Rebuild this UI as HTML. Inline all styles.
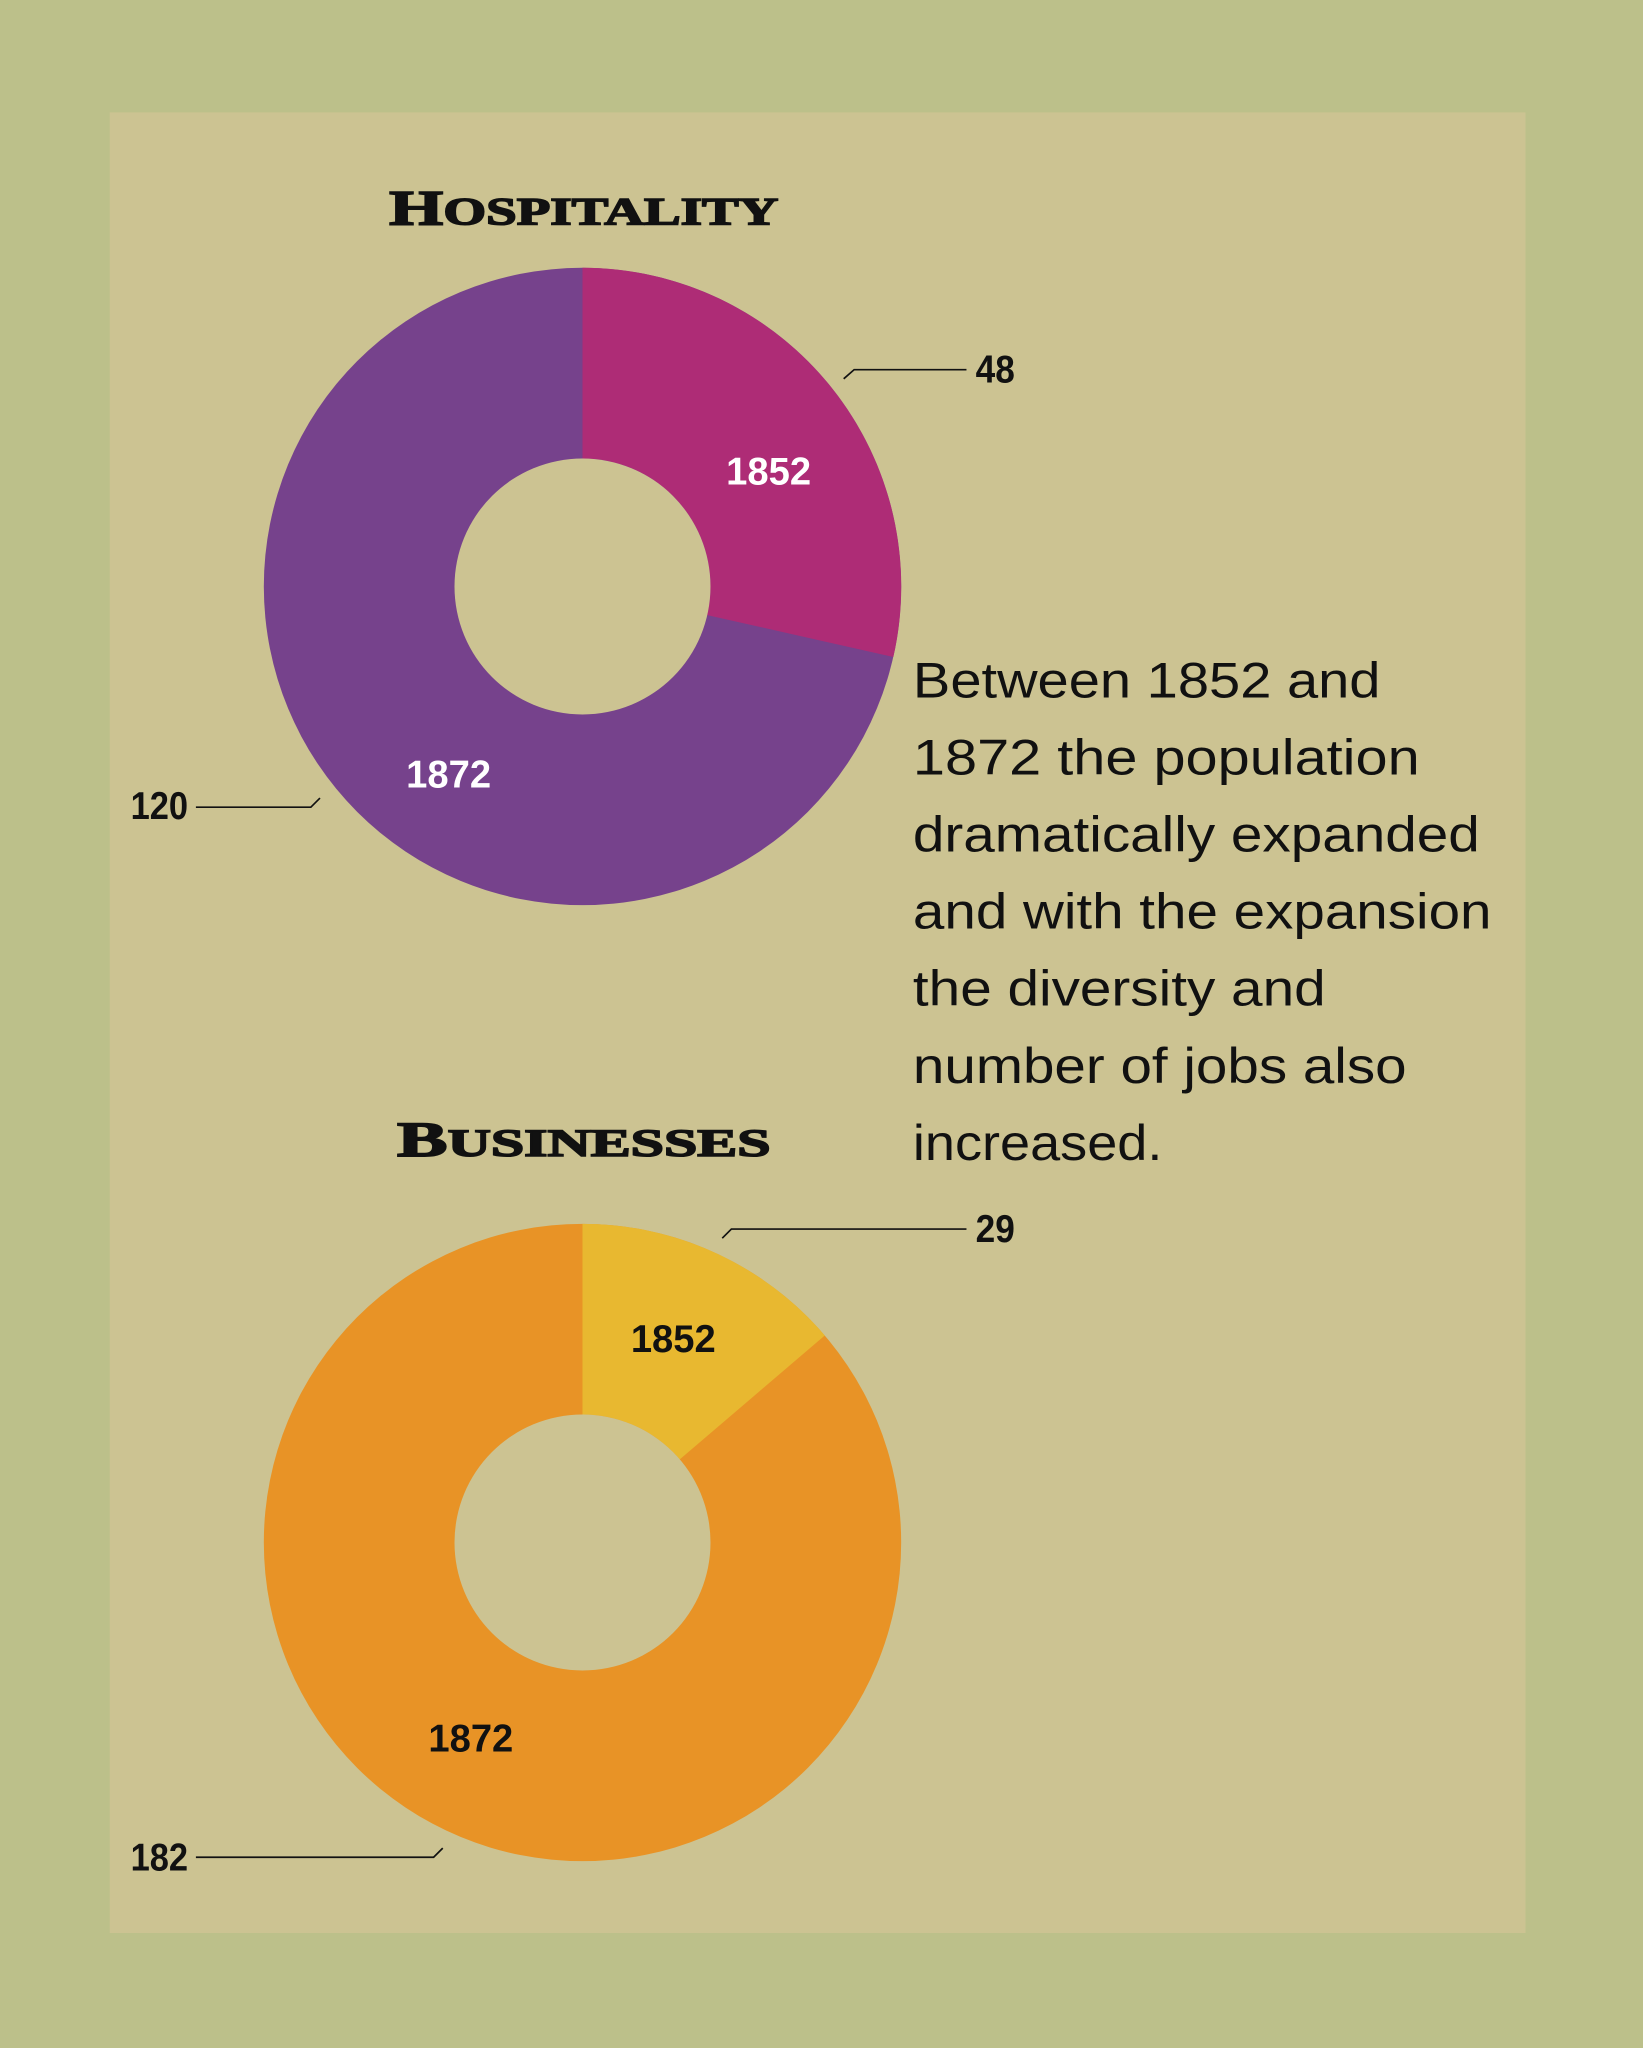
<!DOCTYPE html>
<html><head><meta charset="utf-8"><style>
html,body{margin:0;padding:0;background:#bcc08a;}
svg{display:block}
</style></head><body>
<svg width="1643" height="2048" viewBox="0 0 1258 1568" xmlns="http://www.w3.org/2000/svg">
<rect x="0" y="0" width="1258" height="1568" fill="#bcc08a"/>
<rect x="84" y="86" width="1084" height="1394" fill="#ccc392"/>

<!-- Hospitality -->
<text x="298" y="172" font-family="Liberation Serif, serif" font-weight="bold" fill="#111" stroke="#111" stroke-width="1.2" textLength="298" lengthAdjust="spacingAndGlyphs"><tspan font-size="38">H</tspan><tspan font-size="30">OSPITALITY</tspan></text>
<circle cx="446" cy="449" r="244" fill="#76428c"/>
<path d="M446,205 A244,244 0 0 1 684,503 L541.5,470.9 A98,98 0 0 0 446,351 Z" fill="#ae2c76"/>
<circle cx="446" cy="449" r="98" fill="#ccc392"/>
<g font-family="Liberation Sans Narrow, Liberation Sans, sans-serif" font-weight="bold" font-size="30" fill="#111" lengthAdjust="spacingAndGlyphs">
<text x="556" y="371" fill="#fff" textLength="65" lengthAdjust="spacingAndGlyphs">1852</text>
<text x="311" y="603" fill="#fff" textLength="65" lengthAdjust="spacingAndGlyphs">1872</text>
<text x="747" y="293" textLength="30" lengthAdjust="spacingAndGlyphs">48</text>
<text x="100" y="627" textLength="44" lengthAdjust="spacingAndGlyphs">120</text>
</g>
<polyline points="646,290 654,283 740,283" fill="none" stroke="#111" stroke-width="1.3"/>
<polyline points="150,618 238,618 245,611" fill="none" stroke="#111" stroke-width="1.3"/>

<!-- Businesses -->
<text x="304" y="885" font-family="Liberation Serif, serif" font-weight="bold" fill="#111" stroke="#111" stroke-width="1.2" textLength="286" lengthAdjust="spacingAndGlyphs"><tspan font-size="38">B</tspan><tspan font-size="30">USINESSES</tspan></text>
<circle cx="446" cy="1181" r="244" fill="#e89326"/>
<path d="M446,937 A244,244 0 0 1 631.5,1022.5 L520.5,1117.4 A98,98 0 0 0 446,1083 Z" fill="#e8b830"/>
<circle cx="446" cy="1181" r="98" fill="#ccc392"/>
<g font-family="Liberation Sans Narrow, Liberation Sans, sans-serif" font-weight="bold" font-size="30" fill="#111">
<text x="483" y="1035" textLength="65" lengthAdjust="spacingAndGlyphs">1852</text>
<text x="328" y="1341" textLength="65" lengthAdjust="spacingAndGlyphs">1872</text>
<text x="747" y="951" textLength="30" lengthAdjust="spacingAndGlyphs">29</text>
<text x="100" y="1432" textLength="44" lengthAdjust="spacingAndGlyphs">182</text>
</g>
<polyline points="553,948 560,941 740,941" fill="none" stroke="#111" stroke-width="1.3"/>
<polyline points="150,1422 332,1422 339,1415" fill="none" stroke="#111" stroke-width="1.3"/>

<!-- Paragraph -->
<g font-family="Liberation Sans, sans-serif" font-size="38" fill="#111">
<text x="699" y="534" textLength="358" lengthAdjust="spacingAndGlyphs">Between 1852 and</text>
<text x="699" y="593" textLength="388" lengthAdjust="spacingAndGlyphs">1872 the population</text>
<text x="699" y="652" textLength="434" lengthAdjust="spacingAndGlyphs">dramatically expanded</text>
<text x="699" y="711" textLength="443" lengthAdjust="spacingAndGlyphs">and with the expansion</text>
<text x="699" y="770" textLength="316" lengthAdjust="spacingAndGlyphs">the diversity and</text>
<text x="699" y="829" textLength="378" lengthAdjust="spacingAndGlyphs">number of jobs also</text>
<text x="699" y="888" textLength="191" lengthAdjust="spacingAndGlyphs">increased.</text>
</g>
</svg>
</body></html>
